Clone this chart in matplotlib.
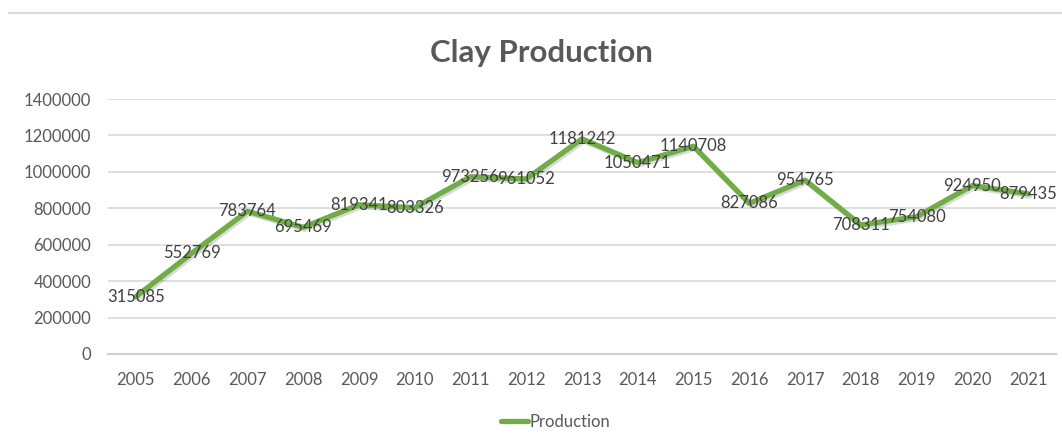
import matplotlib
matplotlib.use("Agg")
import matplotlib.pyplot as plt
import matplotlib.patheffects as pe
from matplotlib.lines import Line2D

years = ["2005", "2006", "2007", "2008", "2009", "2010", "2011", "2012", "2013",
         "2014", "2015", "2016", "2017", "2018", "2019", "2020", "2021"]
production = [315085, 552769, 783764, 695469, 819341, 803326, 973256, 961052, 1181242,
              1050471, 1140708, 827086, 954765, 708311, 754080, 924950, 879435]
y_ticks = [0, 200000, 400000, 600000, 800000, 1000000, 1200000, 1400000]
title = "Clay Production"
series_name = "Production"

plt.rcParams['font.family'] = ['Lato', 'DejaVu Sans']

W, H = 1062, 444
fig = plt.figure(figsize=(W / 100, H / 100), dpi=100)
fig.patch.set_facecolor("white")

# top border line of chart area
fig.add_artist(Line2D([9 / W, 1.0], [1 - 13 / H, 1 - 13 / H], transform=fig.transFigure,
                      color="#D9D9D9", lw=1.5))

left, right, top, bottom = 108, 1056, 99, 354
ax = fig.add_axes([left / W, 1 - bottom / H, (right - left) / W, (bottom - top) / H])

x = list(range(len(years)))
green = "#70AD47"
ax.plot(x, production, color=green, lw=3.8, solid_capstyle="round", solid_joinstyle="round",
        path_effects=[pe.SimpleLineShadow(offset=(1.2, -1.5), shadow_color="#000000", alpha=0.15, rho=0.3),
                      pe.Normal()], zorder=3)

for xi, v in zip(x, production):
    ax.text(xi, v, str(v), ha="center", va="center", fontsize=12, color="#404040", zorder=4)

ax.set_xlim(-0.5, len(years) - 0.5)
ax.set_ylim(0, 1400000)
ax.set_yticks(y_ticks)
ax.set_yticklabels([str(t) for t in y_ticks])
ax.set_xticks(x)
ax.set_xticklabels(years)
ax.tick_params(axis="both", length=0, labelsize=12, labelcolor="#595959")
ax.tick_params(axis="y", pad=12)
ax.tick_params(axis="x", pad=13)
ax.grid(axis="y", color="#D9D9D9", lw=1.2)
ax.set_axisbelow(True)
for s in ["top", "right", "left"]:
    ax.spines[s].set_visible(False)
ax.spines["bottom"].set_color("#D0D0D0")
ax.spines["bottom"].set_linewidth(1.5)

fig.text(541 / W, 1 - 53 / H, title, ha="center", va="center", fontsize=22.5,
         fontweight="bold", color="#595959")

handle = Line2D([], [], color=green, lw=3.8, solid_capstyle="round")
fig.legend([handle], [series_name], loc="center", bbox_to_anchor=(556 / W, 1 - 422 / H),
           frameon=False, fontsize=12, labelcolor="#595959", handlelength=1.6,
           handletextpad=0.1)

fig.savefig("out.png", dpi=100, facecolor="white")
